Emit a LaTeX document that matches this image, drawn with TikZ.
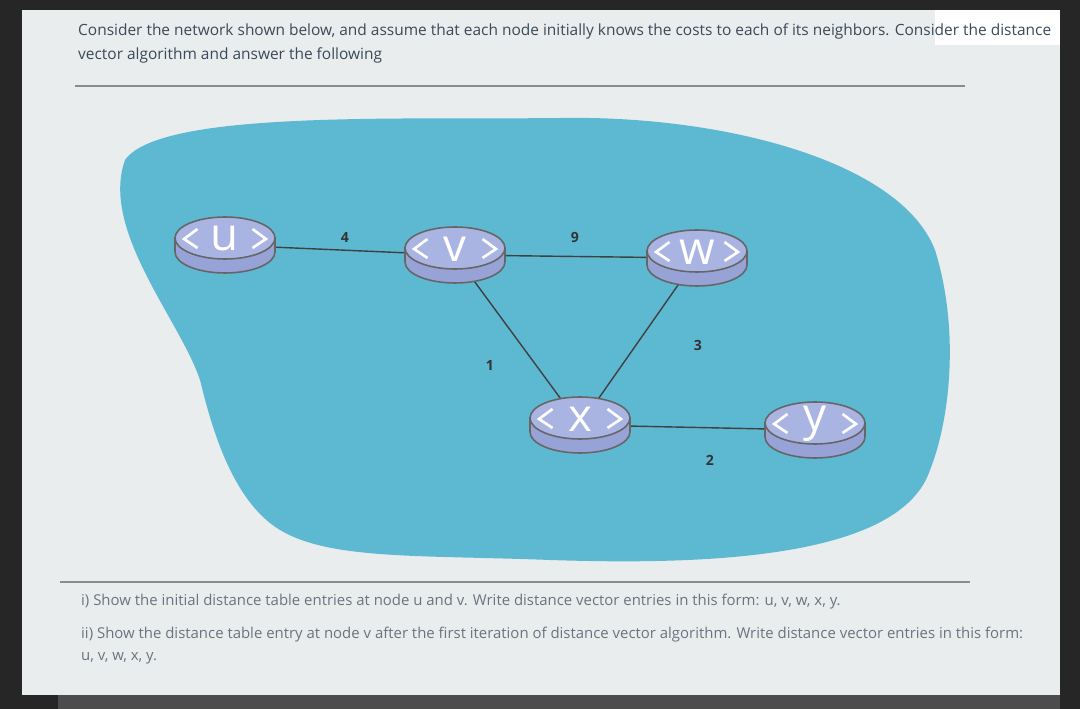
\documentclass[tikz,border=0pt]{standalone}
\usepackage{fontspec}
\setmainfont{Open Sans}
\usetikzlibrary{shapes.geometric}
\definecolor{screen}{HTML}{E9EDED}
\definecolor{cloud}{HTML}{5DB9D2}
\definecolor{rtop}{HTML}{A9B4E2}
\definecolor{rside}{HTML}{97A2D6}
\definecolor{txt}{HTML}{3A4A5A}
\definecolor{qtxt}{HTML}{6A7480}
\tikzset{
  edge/.style={draw=black!75,line width=0.8pt},
  wt/.style={font=\bfseries\fontsize{8}{9}\selectfont,text=black!80},
  anchorpt/.style={ellipse,minimum width=2cm,minimum height=0.9cm,inner sep=0pt},
  qline/.style={draw=black!45,line width=0.6pt},
}
\newcommand{\myrouter}[4]{%
  \begin{scope}[shift={(#2,#3)},x=1cm,y=1cm]
    \fill[rside,draw=black!60,line width=0.9pt] (-1,0.14) -- (-1,-0.14) arc[start angle=180,end angle=360,x radius=1,y radius=0.42] -- (1,0.14) -- cycle;
    \fill[rtop,draw=black!60,line width=0.9pt] (0,0.14) ellipse[x radius=1,y radius=0.42];
    \draw[white,line width=1.5pt] (-0.55,0.32) -- (-0.82,0.12) -- (-0.55,-0.06);
    \draw[white,line width=1.5pt] (0.55,0.32) -- (0.82,0.12) -- (0.55,-0.06);
    \node[text=white,font=\fontsize{26}{26}\selectfont] at (0,0.12) {#4};
  \end{scope}}
\begin{document}
\begin{tikzpicture}[x=0.02cm,y=-0.02cm]
\useasboundingbox (0,0) rectangle (1080,709);
\fill[black!85] (0,0) rectangle (1080,709);
\fill[screen] (22,10) rectangle (1060,695);
\fill[white] (935,10) rectangle (1060,45);
\fill[black!70] (58,695) rectangle (1060,709);
\node[anchor=west,text=txt,font=\fontsize{8.8}{11}\selectfont] (t1) at (72,31) {Consider the network shown below, and assume that each node initially knows the costs to each of its neighbors. Consider the distance};
\node[anchor=west,text=txt,font=\fontsize{8.8}{11}\selectfont] (t2) at (72,55) {vector algorithm and answer the following};
\draw[qline] (75,86) -- (965,86);
\fill[cloud] (125,160) .. controls (160,110) and (400,120) .. (560,118)
 .. controls (720,115) and (900,160) .. (935,250)
 .. controls (960,330) and (950,420) .. (930,470)
 .. controls (900,560) and (700,565) .. (550,560)
 .. controls (420,555) and (330,560) .. (280,530)
 .. controls (230,500) and (210,420) .. (200,380)
 .. controls (180,320) and (100,230) .. (125,160) -- cycle;
\node[anchorpt] (u) at (225,245) {};
\node[anchorpt] (v) at (455,255) {};
\node[anchorpt] (w) at (697,258) {};
\node[anchorpt] (x) at (580,425) {};
\node[anchorpt] (y) at (815,430) {};
\draw[edge] (u.center) -- (v.center);
\draw[edge] (v.center) -- (w.center);
\draw[edge] (v.center) -- (x.center);
\draw[edge] (w.center) -- (x.center);
\draw[edge] (x.center) -- (y.center);
\myrouter{u}{225}{245}{u}
\myrouter{v}{455}{255}{v}
\myrouter{w}{697}{258}{w}
\myrouter{x}{580}{425}{x}
\myrouter{y}{815}{430}{y}
\node[wt] (l4) at (345,237) {4};
\node[wt] (l9) at (575,237) {9};
\node[wt] (l1) at (490,365) {1};
\node[wt] (l3) at (698,345) {3};
\node[wt] (l2) at (710,460) {2};
\draw[qline] (60,582) -- (970,582);
\node[anchor=west,text=qtxt,font=\fontsize{8.5}{10}\selectfont] (q1) at (75,602) {i) Show the initial distance table entries at node u and v. Write distance vector entries in this form: u, v, w, x, y.};
\node[anchor=west,text=qtxt,font=\fontsize{8.5}{10}\selectfont] (q2) at (75,635) {ii) Show the distance table entry at node v after the first iteration of distance vector algorithm. Write distance vector entries in this form:};
\node[anchor=west,text=qtxt,font=\fontsize{8.5}{10}\selectfont] (q3) at (75,658) {u, v, w, x, y.};
\end{tikzpicture}
\end{document}
